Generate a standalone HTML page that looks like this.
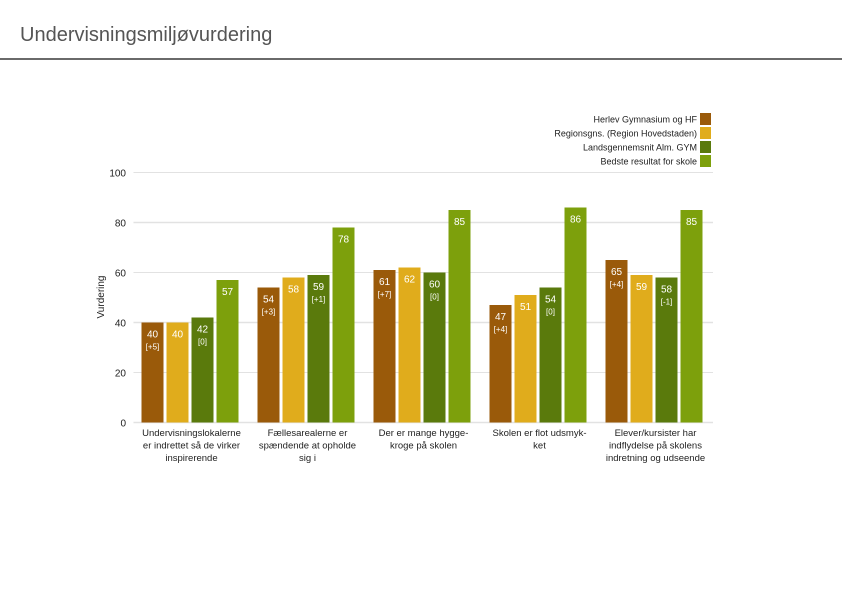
<!DOCTYPE html>
<html><head><meta charset="utf-8"><style>
body{margin:0;width:842px;height:595px;background:#fff;overflow:hidden;font-family:"Liberation Sans",sans-serif}
#title{position:absolute;left:20px;top:24px;font-size:20px;color:#555}
#rule{position:absolute;left:0;top:58px;width:842px;height:2px;background:#6a6a6a}
svg{position:absolute;left:0;top:0}
</style></head><body>
<div id="title">Undervisningsmiljøvurdering</div>
<div id="rule"></div>
<svg id="chart" width="842" height="595"></svg>
<script>
const categories=[["Undervisningslokalerne","er indrettet så de virker","inspirerende"],["Fællesarealerne er","spændende at opholde","sig i"],["Der er mange hygge-","kroge på skolen"],["Skolen er flot udsmyk-","ket"],["Elever/kursister har","indflydelse på skolens","indretning og udseende"]];
const seriesNames=["Herlev Gymnasium og HF","Regionsgns. (Region Hovedstaden)","Landsgennemsnit Alm. GYM","Bedste resultat for skole"];
const herlev=[40,54,61,47,65];
const region=[40,58,62,51,59];
const lands=[42,59,60,54,58];
const best=[57,78,85,86,85];
const herlevDelta=["[+5]","[+3]","[+7]","[+4]","[+4]"];
const landsDelta=["[0]","[+1]","[0]","[0]","[-1]"];
const yTicks=[0,20,40,60,80,100];
const colors=["#9a5a0a","#e0ac1c","#5a7a0c","#7da00c"];
const NS="http://www.w3.org/2000/svg";
const svg=document.getElementById('chart');
const x0=133.5,band=116,y0=422.5,yMax=100,plotH=250,plotR=713;
const yS=v=>y0-v/yMax*plotH;
const xB=(c,s)=>x0+8+c*band+s*25;
function mk(t,a,txt){const e=document.createElementNS(NS,t);for(const k in a)e.setAttribute(k,a[k]);if(txt!==undefined)e.textContent=txt;svg.appendChild(e);return e;}
yTicks.forEach(v=>{
  const l=mk('line',{x1:x0,x2:plotR,y1:yS(v),y2:yS(v),stroke:'#e2e2e2','stroke-width':v%40===20?1:1.5});
  
  
  const t=mk('text',{x:126,y:yS(v)+4,'text-anchor':'end','font-size':10,fill:'#222'},v);
  
  
});
const yt=mk('text',{x:0,y:0,'font-size':10,fill:'#222','text-anchor':'middle',transform:'translate(104,297) rotate(-90)'},'Vurdering');


const series=[herlev,region,lands,best];
series.forEach((arr,s)=>{
  arr.forEach((v,c)=>{
    const x=xB(c,s),y=yS(v);
    const r=mk('rect',{x:x,y:y,width:22,height:y0-y,fill:colors[s]});
    
    
    const t=mk('text',{x:x+11,y:y+15,'text-anchor':'middle','font-size':10,fill:'#fff'},v);
    
    
    const d=s===0?herlevDelta[c]:s===2?landsDelta[c]:null;
    if(d){const dt=mk('text',{x:x+11,y:y+27,'text-anchor':'middle','font-size':8,fill:'#fff'},d);
      
      }
  });
});
categories.forEach((lines,c)=>{
  lines.forEach((ln,i)=>{
    const t=mk('text',{x:x0+band*c+band/2,y:436+i*12.5,'text-anchor':'middle','font-size':9.5,fill:'#222'},ln);
    
    
  });
});
seriesNames.forEach((n,i)=>{
  const y=113+i*14;
  const r=mk('rect',{x:700,y:y,width:11,height:12,fill:colors[i]});
  
  
  const t=mk('text',{x:697,y:y+9.5,'text-anchor':'end','font-size':9,fill:'#222'},n);
  
  
});
</script>
</body></html>
